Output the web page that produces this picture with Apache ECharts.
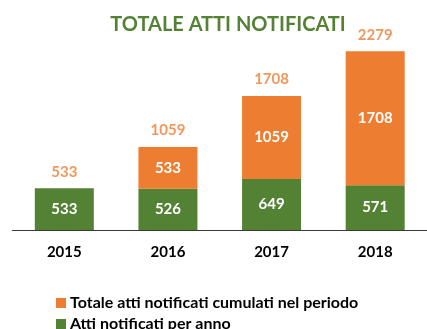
<!DOCTYPE html>
<html>
<head>
<meta charset="utf-8">
<script src="https://cdn.jsdelivr.net/npm/echarts@6/dist/echarts.min.js"></script>
<style>
  html, body { margin: 0; padding: 0; background: #ffffff; }
  #chart { width: 427px; height: 329px; }
</style>
</head>
<body>
<div id="chart"></div>
<script>
// Years on the category axis
const years = ['2015', '2016', '2017', '2018'];
// Acts notified in each single year (bottom segment)
const perYear = [533, 526, 649, 571];
// Acts notified in the preceding years (top segment)
const cumulatedBefore = [null, 533, 1059, 1708];
// Running total shown above each bar
const totals = [533, 1059, 1708, 2279];

const seriesNames = ['Totale atti notificati cumulati nel periodo', 'Atti notificati per anno'];

const GREEN = '#548235';
const ORANGE = '#ED7D31';
const FONT = 'Lato';

const legendText = { color: '#000000', fontFamily: FONT, fontWeight: 'bold', fontSize: 16, padding: [0, 0, 0, -1] };

const chart = echarts.init(document.getElementById('chart'), null, { renderer: 'canvas' });

chart.setOption({
  animation: false,
  backgroundColor: '#ffffff',
  title: {
    text: 'TOTALE ATTI NOTIFICATI',
    left: 223,
    textAlign: 'center',
    top: 10,
    textStyle: { color: GREEN, fontFamily: FONT, fontWeight: 'bold', fontSize: 20 }
  },
  // one legend row per series, stacked vertically
  legend: [
    {
      data: [seriesNames[0]],
      left: 51,
      top: 290,
      itemWidth: 10,
      itemHeight: 10,
      icon: 'rect',
      textStyle: legendText
    },
    {
      data: [seriesNames[1]],
      left: 51,
      top: 311,
      itemWidth: 10,
      itemHeight: 10,
      icon: 'rect',
      textStyle: legendText
    }
  ],
  grid: { left: 12.5, right: -9.5, top: 34, bottom: 99, containLabel: false },
  xAxis: {
    type: 'category',
    data: years,
    axisLine: { lineStyle: { color: '#3a3a3a', width: 1 } },
    axisTick: { show: false },
    axisLabel: { color: '#000000', fontFamily: FONT, fontWeight: 'bold', fontSize: 15, margin: 15 }
  },
  yAxis: {
    type: 'value',
    min: 0,
    max: 2500,
    show: false,
    splitLine: { show: false }
  },
  series: [
    {
      name: seriesNames[1],
      type: 'bar',
      stack: 'atti',
      barWidth: 59,
      itemStyle: { color: GREEN },
      label: { show: true, position: 'inside', color: '#ffffff', fontFamily: FONT, fontWeight: 'bold', fontSize: 15 },
      data: perYear
    },
    {
      name: seriesNames[0],
      type: 'bar',
      stack: 'atti',
      barWidth: 59,
      itemStyle: { color: ORANGE },
      label: { show: true, position: 'inside', color: '#ffffff', fontFamily: FONT, fontWeight: 'bold', fontSize: 15 },
      data: cumulatedBefore
    },
    {
      name: 'totali',
      type: 'scatter',
      symbolSize: 0,
      silent: true,
      label: { show: true, position: 'top', distance: 9, color: ORANGE, fontFamily: FONT, fontWeight: 'bold', fontSize: 15 },
      data: totals
    }
  ]
});
</script>
</body>
</html>
